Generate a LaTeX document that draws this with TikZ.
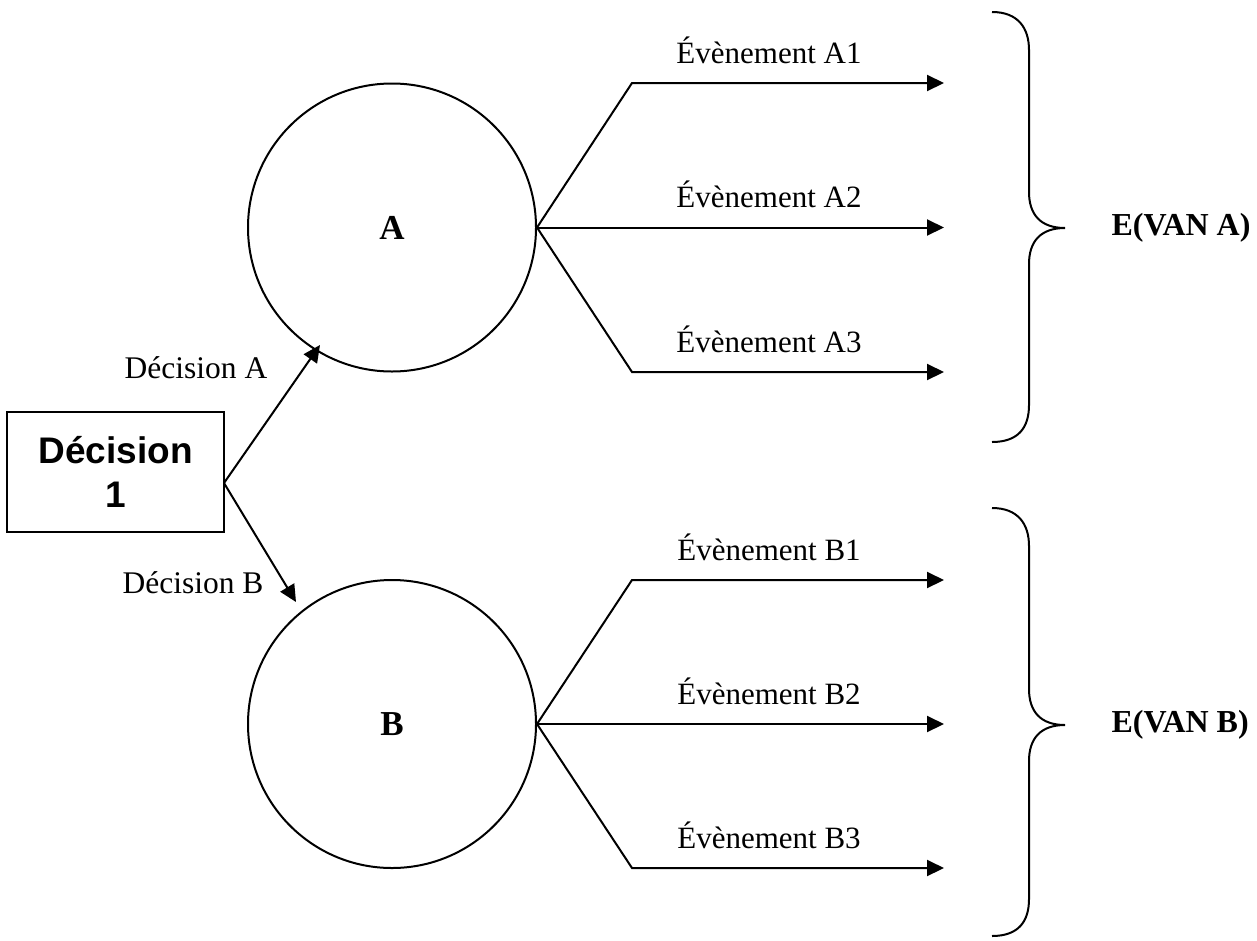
\documentclass[tikz,border=0pt]{standalone}
\usepackage{fontspec}
\setmainfont{Liberation Serif}
\setsansfont{Liberation Sans}
\usetikzlibrary{arrows.meta}
\begin{document}
\begin{tikzpicture}[x=1pt,y=-1pt,
  ln/.style={line width=2pt,line join=miter},
  arr/.style={ln,-{Triangle[length=17pt,width=16pt]}},
  circ/.style={circle,draw,line width=2pt,minimum size=288pt,inner sep=0pt,font=\fontsize{35}{40}\selectfont\bfseries},
  evt/.style={font=\fontsize{31}{36}\selectfont,anchor=base},
  dec/.style={font=\fontsize{31.5}{36}\selectfont,anchor=base},
  res/.style={font=\fontsize{32}{38}\selectfont\bfseries,anchor=west},
  brc/.style={line width=2pt}]
\useasboundingbox (0,0) rectangle (1257,940);
% decision box
\node[draw,line width=2pt,minimum width=217pt,minimum height=120pt,inner sep=0pt,align=center,
  font=\fontsize{37}{44}\selectfont\sffamily\bfseries] (D) at (115.5,472) {Décision\\1};
\coordinate (o) at (224,483);
% circles
\node[circ] (A) at (392,227.5) {A};
\node[circ] (B) at (392,724) {B};
\coordinate (tA) at (320,345);
\coordinate (tB) at (296,602);
\draw[arr] (o) -- (tA);
\draw[arr] (o) -- (tB);
\node[dec] (lA) at (196,378) {Décision A};
\node[dec] (lB) at (193,593) {Décision B};
% events A
\coordinate (cA1) at (632,83);
\coordinate (cA3) at (632,372);
\coordinate (eA1) at (944,83);
\coordinate (eA2) at (944,227.5);
\coordinate (eA3) at (944,372);
\draw[arr] (A.east) -- (cA1) -- (eA1);
\draw[arr] (A.east) -- (eA2);
\draw[arr] (A.east) -- (cA3) -- (eA3);
\node[evt] (tA1) at (769,63) {Évènement A1};
\node[evt] (tA2) at (769,207) {Évènement A2};
\node[evt] (tA3) at (769,352) {Évènement A3};
% events B
\coordinate (cB1) at (632,580);
\coordinate (cB3) at (632,868);
\coordinate (eB1) at (944,580);
\coordinate (eB2) at (944,724);
\coordinate (eB3) at (944,868);
\draw[arr] (B.east) -- (cB1) -- (eB1);
\draw[arr] (B.east) -- (eB2);
\draw[arr] (B.east) -- (cB3) -- (eB3);
\node[evt] (tB1) at (769,560) {Évènement B1};
\node[evt] (tB2) at (769,704) {Évènement B2};
\node[evt] (tB3) at (769,848) {Évènement B3};
% braces
\draw[brc] (992,12) .. controls (1018,12) and (1029,28) .. (1029,50)
  -- (1029,192) .. controls (1029,214) and (1040,228) .. (1065,228)
  .. controls (1040,228) and (1029,242) .. (1029,264)
  -- (1029,405) .. controls (1029,428) and (1018,442) .. (992,442);
\draw[brc] (992,508) .. controls (1018,508) and (1029,524) .. (1029,546)
  -- (1029,689) .. controls (1029,711) and (1040,725) .. (1065,725)
  .. controls (1040,725) and (1029,739) .. (1029,761)
  -- (1029,899) .. controls (1029,922) and (1018,936) .. (992,936);
\node[res] (vA) at (1108,228) {E(VAN A)};
\node[res] (vB) at (1108,725) {E(VAN B)};
\end{tikzpicture}
\end{document}
